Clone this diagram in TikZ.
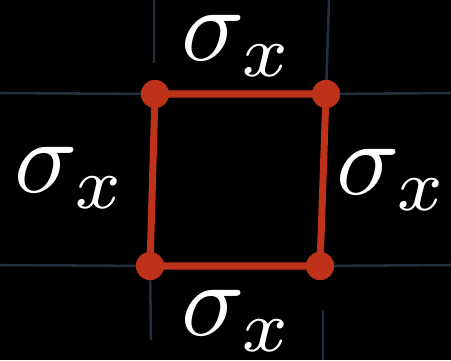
\documentclass[tikz,border=0pt]{standalone}
\usepackage{xcolor}
\usepackage{tikz}
\usetikzlibrary{backgrounds}

\definecolor{gridblue}{RGB}{34,47,60}
\definecolor{edgered}{RGB}{190,50,26}

\begin{document}
\begin{tikzpicture}[x=0.025cm,y=-0.025cm,
  gridline/.style={draw=gridblue,line width=1.8pt},
  edge/.style={draw=edgered,line width=5pt},
  corner/.style={circle,fill=edgered,inner sep=0pt,minimum size=0.7cm},
  lbl/.style={text=white,inner sep=0pt,scale=7.45}
]
\useasboundingbox (0,0) rectangle (451,360);

% Corners
\node[corner] (tl) at (155,94) {};
\node[corner] (tr) at (326,94) {};
\node[corner] (bl) at (150,266) {};
\node[corner] (br) at (320,266) {};

% Background and grid
\coordinate (gl1) at (0,93);
\coordinate (gr1) at (451,93);
\coordinate (gl2) at (0,265);
\coordinate (gr2) at (451,265);
\begin{scope}[on background layer]
\fill[black] (0,0) rectangle (451,360);
\draw[gridline] (gl1) -- (tl.center) -- (tr.center) -- (gr1);
\draw[gridline] (gl2) -- (bl.center) -- (br.center) -- (gr2);
\draw[gridline] (154,0) -- (154,63);
\draw[gridline] (329,0) -- (tr.center);
\draw[gridline] (bl.center) -- (151,340);
\draw[gridline] (323,310) -- (323,360);
\end{scope}

% Edges
\draw[edge] (tl.center) -- (tr.center) -- (br.center) -- (bl.center) -- cycle;
\foreach \c in {tl,tr,bl,br}
  \node[corner] at (\c) {};

% Labels
\node[lbl] (top) at (238,46) {$\sigma_x$};
\node[lbl] (left) at (71,178) {$\sigma_x$};
\node[lbl] (right) at (393,180) {$\sigma_x$};
\node[lbl] (bottom) at (238,321) {$\sigma_x$};

\end{tikzpicture}
\end{document}
